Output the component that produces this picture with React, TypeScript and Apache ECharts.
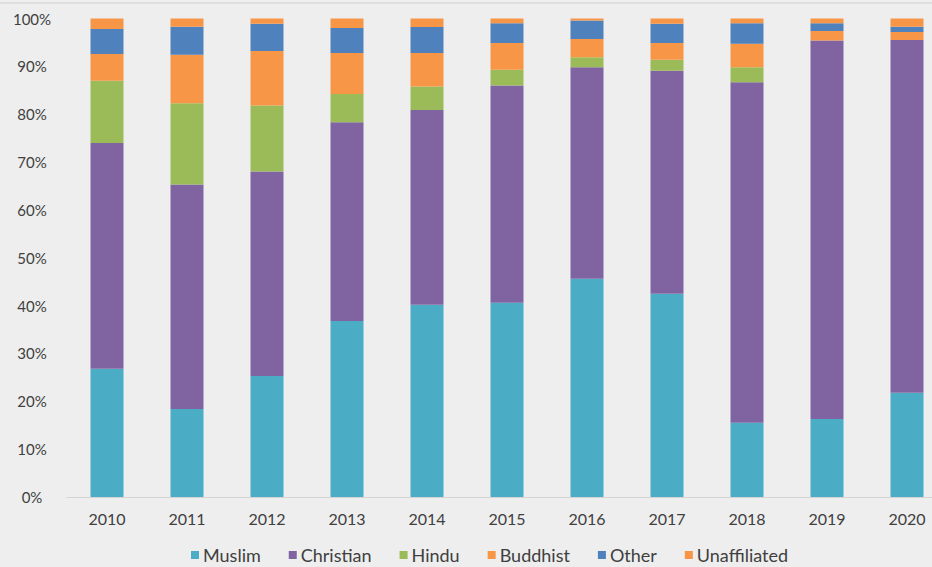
import React, { useEffect, useRef } from "react";
import * as echarts from "echarts";

const years = ["2010", "2011", "2012", "2013", "2014", "2015", "2016", "2017", "2018", "2019", "2020"];
const muslim = [26.8, 18.4, 25.3, 36.8, 40.2, 40.6, 45.6, 42.5, 15.5, 16.3, 21.8];
const christian = [47.2, 46.9, 42.7, 41.5, 40.7, 45.4, 44.2, 46.6, 71.2, 79.1, 73.7];
const hindu = [13.0, 17.0, 13.8, 5.9, 4.9, 3.3, 2.1, 2.3, 3.1, 0, 0];
const buddhist = [5.6, 10.1, 11.4, 8.6, 7.0, 5.6, 3.8, 3.5, 4.9, 2.0, 1.7];
const other = [5.2, 5.9, 5.7, 5.2, 5.4, 4.1, 3.9, 4.0, 4.3, 1.6, 1.1];
const unaffiliated = [2.2, 1.7, 1.1, 2.0, 1.8, 1.0, 0.4, 1.1, 1.0, 1.0, 1.7];

const seriesNames = ["Muslim", "Christian", "Hindu", "Buddhist", "Other", "Unaffiliated"];
const seriesData = [muslim, christian, hindu, buddhist, other, unaffiliated];
const colors = ["#4bacc6", "#8064a2", "#9bbb59", "#f79646", "#4f81bd", "#f79646"];

export default function App() {
  const ref = useRef<HTMLDivElement>(null);
  useEffect(() => {
    if (!ref.current) return;
    const chart = echarts.init(ref.current, undefined, { renderer: "svg" });
    chart.setOption({
      animation: false,
      backgroundColor: "#eeeeee",
      textStyle: { fontFamily: "Lato" },
      grid: { left: 67, right: 0, top: 18.5, height: 478.5, containLabel: false },
      legend: {
        top: 541,
        left: 186,
        itemWidth: 8,
        itemHeight: 8,
        itemGap: 28,
        icon: "rect",
        textStyle: { fontFamily: "Lato", fontSize: 18, color: "#404040", padding: [0, 0, 0, -1] },
        data: seriesNames,
      },
      graphic: [
        {
          type: "line",
          shape: { x1: 0, y1: 3, x2: 947, y2: 3 },
          style: { stroke: "#d0d0d0", lineWidth: 1 },
        },
      ],
      xAxis: {
        type: "category",
        data: years,
        axisTick: { show: false },
        axisLine: { lineStyle: { color: "#d4d4d4", width: 1 } },
        axisLabel: { color: "#404040", fontSize: 16, fontFamily: "Lato", margin: 13 },
      },
      yAxis: {
        type: "value",
        min: 0,
        max: 100,
        interval: 10,
        splitLine: { show: false },
        axisLine: { show: false },
        axisTick: { show: false },
        axisLabel: {
          formatter: "{value}%",
          color: "#404040",
          fontSize: 15,
          fontFamily: "Lato",
          align: "center",
          margin: 35,
        },
      },
      series: seriesNames.map((name, i) => ({
        name,
        type: "bar",
        stack: "total",
        barWidth: 33,
        itemStyle: { color: colors[i] },
        data: seriesData[i],
      })),
    });
    return () => chart.dispose();
  }, []);
  return (
    <div style={{ position: "fixed", left: 0, top: 0, width: 932, height: 567, overflow: "hidden" }}>
      <div ref={ref} style={{ position: "absolute", left: 0, top: 0, width: 947, height: 567 }} />
    </div>
  );
}
